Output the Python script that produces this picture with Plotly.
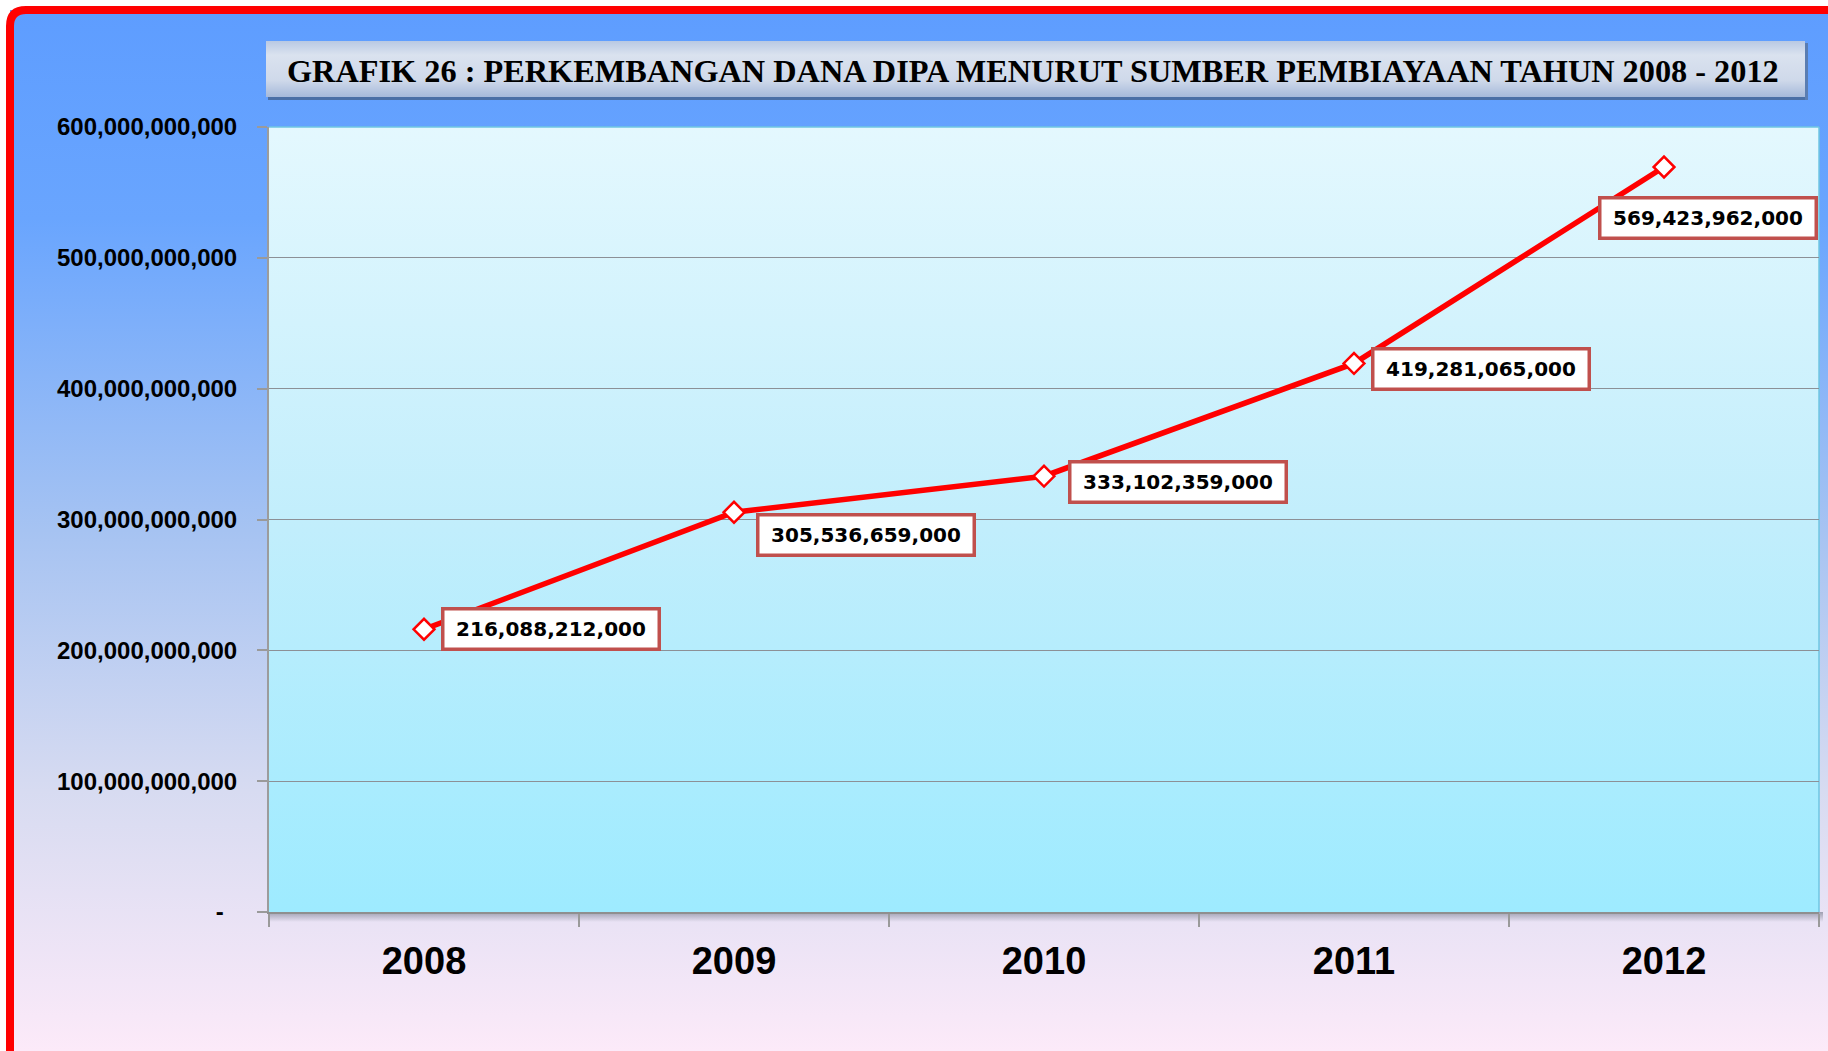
import base64
import plotly.graph_objects as go

# ---------------- data ----------------
years = ["2008", "2009", "2010", "2011", "2012"]
values = [216088212000, 305536659000, 333102359000, 419281065000, 569423962000]
y_tickvals = [0, 100e9, 200e9, 300e9, 400e9, 500e9, 600e9]
y_ticktext = ["-\u00a0\u00a0", "100,000,000,000", "200,000,000,000", "300,000,000,000",
              "400,000,000,000", "500,000,000,000", "600,000,000,000"]
title_text = "GRAFIK 26 : PERKEMBANGAN DANA DIPA MENURUT SUMBER PEMBIAYAAN TAHUN 2008 - 2012"
# label offsets (pixels) relative to each point: (xshift, yshift)
label_shifts = [(17, 0), (22, -23), (24, -6), (17, -6), (-66, -51)]

W, H = 1828, 1051
PL, PR, PT, PB = 269, 1819, 127, 912  # plot area in pixels


def X(p):
    return p / W


def Y(p):
    return 1 - p / H


def grad_uri(stops, w=10, h=100):
    st = "".join(f'<stop offset="{o}" stop-color="{c}" stop-opacity="{a}"/>' for o, c, a in stops)
    svg = (f'<svg xmlns="http://www.w3.org/2000/svg" width="{w}" height="{h}" '
           f'viewBox="0 0 {w} {h}" preserveAspectRatio="none">'
           f'<defs><linearGradient id="g" x1="0" y1="0" x2="0" y2="1">{st}</linearGradient></defs>'
           f'<rect x="0" y="0" width="{w}" height="{h}" fill="url(#g)"/></svg>')
    return "data:image/svg+xml;base64," + base64.b64encode(svg.encode()).decode()


def img(uri, x0, y0, x1, y1):
    return dict(source=uri, xref="paper", yref="paper", x=X(x0), y=Y(y0),
                sizex=X(x1) - X(x0), sizey=Y(y0) - Y(y1), xanchor="left", yanchor="top",
                sizing="stretch", layer="below")


bg_uri = grad_uri([(0, "#5E9DFF", 1), (0.2, "#69A5FE", 1), (0.5, "#A6C3F2", 1),
                   (0.75, "#D7DBF1", 1), (1, "#FCEAF9", 1)])
plot_uri = grad_uri([(0, "#E4F8FE", 1), (0.5, "#C2EEFC", 1), (1, "#9EEBFF", 1)])
title_uri = grad_uri([(0, "#B9C9E3", 1), (0.25, "#DAE2EF", 1), (0.7, "#CFD9EA", 1), (1, "#A5B9DA", 1)])
shadow_uri = grad_uri([(0, "#8C8FA0", 0.8), (1, "#8C8FA0", 0)])

images = [
    img(bg_uri, 10, 10, W, H),
    img(title_uri, 266, 41, 1805, 97),
    img(plot_uri, PL, PT, PR, PB),
    img(shadow_uri, PL, PB, PR + 4, PB + 10),
]

shapes = [
    # red outer border with rounded top-left corner
    dict(type="path", xref="paper", yref="paper",
         path=f"M {X(10)},{Y(H + 20)} L {X(10)},{Y(26)} Q {X(10)},{Y(10)} {X(26)},{Y(10)} L {X(W + 20)},{Y(10)}",
         line=dict(color="#FF0000", width=8), layer="below"),
    # title box shadow edges
    dict(type="line", xref="paper", yref="paper", x0=X(268), x1=X(1807), y0=Y(98.5), y1=Y(98.5),
         line=dict(color="#4A6FA6", width=3), layer="below"),
    dict(type="line", xref="paper", yref="paper", x0=X(1806.5), x1=X(1806.5), y0=Y(43), y1=Y(100),
         line=dict(color="#5A7DB2", width=3), layer="below"),
    # plot top/right thin border
    dict(type="line", xref="paper", yref="paper", x0=X(PL), x1=X(PR), y0=Y(PT), y1=Y(PT),
         line=dict(color="#6FC6E2", width=1.5), layer="below"),
    dict(type="line", xref="paper", yref="paper", x0=X(PR), x1=X(PR), y0=Y(PT), y1=Y(PB),
         line=dict(color="#6FC6E2", width=1.5), layer="below"),
]

fig = go.Figure()
fig.add_trace(go.Scatter(
    x=years, y=values, mode="lines+markers",
    line=dict(color="#FF0000", width=5.5),
    marker=dict(symbol="diamond", size=16, color="white", line=dict(color="#FF0000", width=2.5)),
    hoverinfo="skip", showlegend=False,
))

annotations = [
    dict(text=f"<b>{title_text}</b>", xref="paper", yref="paper", x=X(1033), y=Y(71),
         xanchor="center", yanchor="middle", showarrow=False,
         font=dict(family="Liberation Serif", size=32.3, color="black")),
]
for i, (v, (dx, dy)) in enumerate(zip(values, label_shifts)):
    annotations.append(dict(
        x=i, y=v, xref="x", yref="y", text=f"<b>{v:,}</b>", showarrow=False,
        xanchor="left", yanchor="middle", xshift=dx, yshift=dy,
        font=dict(family="DejaVu Sans", size=20, color="black"),
        bgcolor="white", bordercolor="#C0504D", borderwidth=3.5, borderpad=5,
        width=203, height=27, align="center",
    ))

fig.update_layout(
    width=W, height=H, margin=dict(l=0, r=0, t=0, b=0, autoexpand=False),
    paper_bgcolor="white", plot_bgcolor="rgba(0,0,0,0)",
    images=images, shapes=shapes, annotations=annotations,
    xaxis=dict(domain=[X(PL), X(PR)], type="category", range=[-0.5, 4.5], automargin=False,
               tickson="boundaries", ticks="outside", ticklen=13, tickcolor="#9A9A9A", tickwidth=1.5,
               showline=True, linecolor="#8F8F8F", linewidth=2, showgrid=False, zeroline=False,
               tickfont=dict(family="Liberation Sans", size=38, color="black", weight="bold"),
               ticklabelstandoff=14, fixedrange=True),
    yaxis=dict(domain=[Y(PB), Y(PT)], range=[0, 600e9], tickvals=y_tickvals, ticktext=y_ticktext,
               automargin=False,
               ticks="outside", ticklen=10, tickcolor="#9A9A9A", tickwidth=1.5,
               showline=True, linecolor="#9C9C9C", linewidth=2, showgrid=True,
               gridcolor="#8C9096", gridwidth=1.2, zeroline=False,
               tickfont=dict(family="Liberation Sans", size=24, color="black", weight="bold"),
               ticklabelstandoff=15, fixedrange=True),
    hovermode=False,
)

fig.write_html("out.html", config=dict(displayModeBar=False),
               post_script="document.body.style.margin='0';document.body.style.overflow='hidden';")
